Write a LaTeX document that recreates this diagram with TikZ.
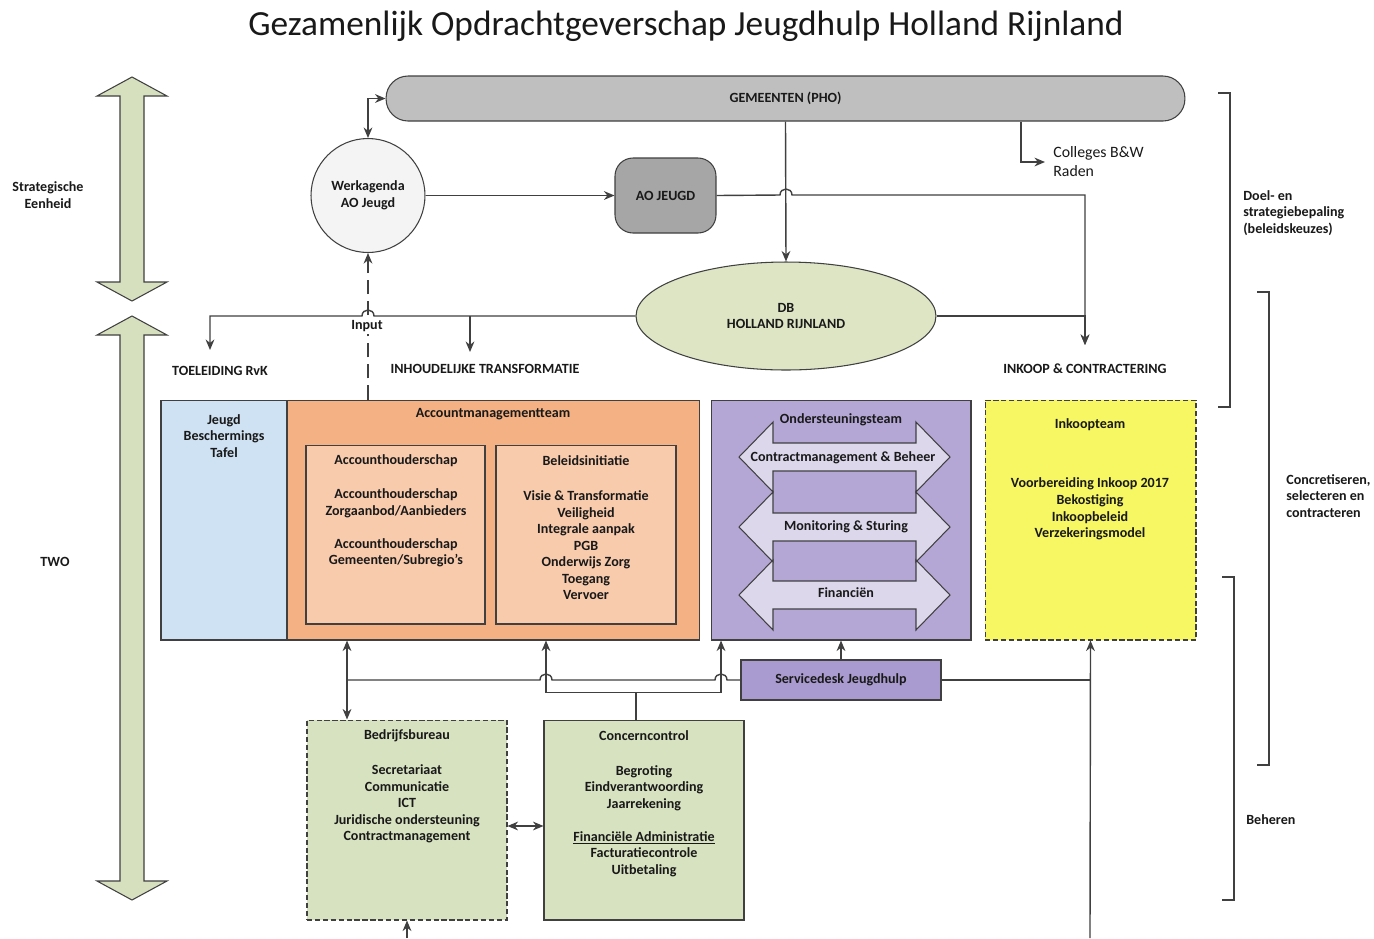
\documentclass[tikz,border=0pt]{standalone}
\usepackage{fontspec}
\setmainfont{Carlito}
\usetikzlibrary{arrows.meta,shapes.geometric}

\definecolor{gemgray}{HTML}{BFBFBF}
\definecolor{aogray}{HTML}{A6A6A6}
\definecolor{circwhite}{HTML}{F4F4F4}
\definecolor{dbgreen}{HTML}{DDE5C5}
\definecolor{jbtblue}{HTML}{CFE2F3}
\definecolor{amtorange}{HTML}{F4B183}
\definecolor{amtlight}{HTML}{F8CBAD}
\definecolor{ostpurple}{HTML}{B4A7D6}
\definecolor{lavarrow}{HTML}{DDD7EC}
\definecolor{sdpurple}{HTML}{A99BD0}
\definecolor{inkyellow}{HTML}{F7F764}
\definecolor{bbgreen}{HTML}{D7E2C0}
\definecolor{bigarrow}{HTML}{D6E0BF}
\definecolor{linegray}{HTML}{404040}

\begin{document}
\begin{tikzpicture}[x=0.02cm,y=-0.02cm,
	every node/.style={font=\fontsize{8}{9.4}\selectfont\bfseries,align=center,inner sep=0pt,text=black!90},
	box/.style={draw=linegray,line width=0.6pt},
	line/.style={draw=linegray,line width=0.8pt},
	arr/.style={line,-{Stealth[length=6pt,width=5pt]}},
	dblarr/.style={line,{Stealth[length=6pt,width=5pt]}-{Stealth[length=6pt,width=5pt]}}]
	\useasboundingbox (0,0) rectangle (1374,938);
	\fill[white] (0,0) rectangle (1374,938);

	% title
	\node[font=\fontsize{20.1}{24}\selectfont] (title) at (686,26) {Gezamenlijk Opdrachtgeverschap Jeugdhulp Holland Rijnland};

	% big arrows on the left
	\foreach \t/\b in {77/301,316/900}{
		\draw[box,fill=bigarrow] (132,\t) -- (167,\t+19) -- (144,\t+19) -- (144,\b-19) -- (167,\b-19) -- (132,\b)
			-- (97,\b-19) -- (120,\b-19) -- (120,\t+19) -- (97,\t+19) -- cycle;
	}
	\node (strat) at (48,195) {Strategische\\Eenheid};
	\node (two) at (55,562) {TWO};

	% top part
	\node[box,fill=gemgray,rounded corners=0.44cm,minimum width=15.98cm,minimum height=0.9cm] (gem) at (785.5,98.5) {GEMEENTEN (PHO)};
	\node[box,circle,fill=circwhite,minimum size=2.28cm] (werk) at (368,195.5) {Werkagenda\\AO Jeugd};
	\node[box,fill=aogray,rounded corners=0.36cm,minimum width=2.02cm,minimum height=1.5cm] (aoj) at (665.5,195.5) {AO JEUGD};
	\node[box,ellipse,fill=dbgreen,minimum width=6cm,minimum height=2.16cm] (db) at (786,316) {DB\\HOLLAND RIJNLAND};
	\node[font=\fontsize{9}{10.8}\selectfont,align=left,anchor=west] (colleges) at (1053,162) {Colleges B\&W\\Raden};

	\node (toe) at (220,371) {TOELEIDING RvK};
	\node (inh) at (485,369) {INHOUDELIJKE TRANSFORMATIE};
	\node (inkc) at (1085,369) {INKOOP \& CONTRACTERING};
	\coordinate (toein) at (210,350);
	\coordinate (inhin) at (470,352);
	\coordinate (inkin) at (1085,345);

	% teams
	\node[box,fill=jbtblue,minimum width=2.52cm,minimum height=4.8cm] (jbt) at (224,520) {};
	\node[box,fill=amtorange,minimum width=8.26cm,minimum height=4.8cm] (amt) at (493.5,520) {};
	\node[box,fill=amtlight,minimum width=3.58cm,minimum height=3.58cm] (ah) at (395.5,534.5) {};
	\node[box,fill=amtlight,minimum width=3.6cm,minimum height=3.58cm] (bi) at (586,534.5) {};
	\node[box,fill=ostpurple,minimum width=5.2cm,minimum height=4.8cm] (ost) at (841,520) {};
	\node[box,dash pattern=on 3pt off 1.5pt,fill=inkyellow,minimum width=4.22cm,minimum height=4.8cm] (ink) at (1090.5,520) {};

	\node (jbtt) at (224,436) {Jeugd\\Beschermings\\Tafel};
	\node (amtt) at (493,414) {Accountmanagementteam};
	\node (aht) at (396,461) {Accounthouderschap};
	\node (ahb) at (396,528) {Accounthouderschap\\Zorgaanbod/Aanbieders\\[9.4pt]Accounthouderschap\\Gemeenten/Subregio’s};
	\node (bit) at (586,461) {Beleidsinitiatie};
	\node (bib) at (586,545.5) {Visie \& Transformatie\\Veiligheid\\Integrale aanpak\\PGB\\Onderwijs Zorg\\Toegang\\Vervoer};

	\foreach \c in {457,527,595}{
		\draw[box,fill=lavarrow] (739,\c) -- (773,\c-35) -- (773,\c-14) -- (916,\c-14) -- (916,\c-35) -- (950,\c)
			-- (916,\c+35) -- (916,\c+14) -- (773,\c+14) -- (773,\c+35) -- cycle;
	}
	\node (ostt) at (841,420) {Ondersteuningsteam};
	\node (cmb) at (843,458) {Contractmanagement \& Beheer};
	\node (mst) at (846,527) {Monitoring \& Sturing};
	\node (fin) at (846,593) {Financiën};

	\node (inkt) at (1090,425) {Inkoopteam};
	\node (inkb) at (1090,509) {Voorbereiding Inkoop 2017\\Bekostiging\\Inkoopbeleid\\Verzekeringsmodel};

	% bottom part
	\node[box,fill=sdpurple,minimum width=4cm,minimum height=0.8cm] (sd) at (841,680) {Servicedesk Jeugdhulp};
	\node[box,dash pattern=on 3pt off 1.5pt,fill=bbgreen,minimum width=4cm,minimum height=4cm] (bb) at (407,820) {};
	\node[box,fill=bbgreen,minimum width=4cm,minimum height=4cm] (cc) at (644,820) {};
	\node (bbt) at (407,736) {Bedrijfsbureau};
	\node (bbb) at (407,804) {Secretariaat\\Communicatie\\ICT\\Juridische ondersteuning\\Contractmanagement};
	\node (cct) at (644,736) {Concerncontrol};
	\node (ccb) at (644,821) {Begroting\\Eindverantwoording\\Jaarrekening\\[9.4pt]\underline{Financiële Administratie}\\Facturatiecontrole\\Uitbetaling};
	\coordinate (bbbot) at (407,938);
	\coordinate (inkbot) at (1090,938);

	% connectors top
	\draw[dblarr] (werk.north) |- (gem.west);
	\draw[arr] (werk.east) -- (aoj.west);
	\draw[arr] (gem.south) -- (db.north);
	\draw[arr] ([xshift=4.71cm]gem.south) |- ([xshift=-0.16cm]colleges.west);
	\draw[arr] (aoj.east) -- (780,195) .. controls (780,187) and (792,187) .. (792,195) -| (inkin);
	\draw[arr] (db.east) -| (inkin);
	\draw[arr] (db.west) -- (374,316) .. controls (374,308) and (362,308) .. (362,316) -| (toein);
	\draw[arr] (inhin |- db.west) -- (inhin);
	\draw[arr,dash pattern=on 8pt off 4pt] (amt.north -| werk.south) -- (werk.south);
	\node[fill=white,inner sep=1.5pt] (input) at (367,326) {Input};

	% connectors bottom
	\draw[arr] (sd.north) -- (ost.south);
	\draw[line] (sd.east) -- (sd.east -| ink.south);
	\draw[arr] (inkbot) -- (ink.south);
	\draw[line] (sd.west) -- (727,680) .. controls (727,672) and (715,672) .. (715,680) -- (552,680)
		.. controls (552,672) and (540,672) .. (540,680) -- ([xshift=-1.2cm]bb.north |- sd.west);
	\draw[dblarr] ([xshift=-1.2cm]bb.north |- amt.south) -- ([xshift=-1.2cm]bb.north);
	\draw[arr] ([xshift=-0.16cm]cc.north) -- ++(0,-27) -| ([xshift=1.05cm]amt.south);
	\draw[arr] ([xshift=-0.16cm]cc.north) -- ++(0,-27) -| ([xshift=-2.4cm]ost.south);
	\draw[dblarr] ([yshift=-0.12cm]bb.east) -- ([yshift=-0.12cm]cc.west);
	\draw[arr] (bbbot) -- (bb.south);

	% brackets on the right
	\foreach \x/\t/\b in {1230/93/407,1269/292/765,1234/577/900}{
		\draw[line,line width=0.6pt] (\x-12,\t) -- (\x,\t) -- (\x,\b) -- (\x-12,\b);
	}
	\node[align=left,anchor=west] (doel) at (1243,213) {Doel- en\\strategiebepaling\\(beleidskeuzes)};
	\node[align=left,anchor=west] (conc) at (1286,496) {Concretiseren,\\selecteren en\\contracteren};
	\node[align=left,anchor=west] (beh) at (1246,820) {Beheren};
\end{tikzpicture}
\end{document}
